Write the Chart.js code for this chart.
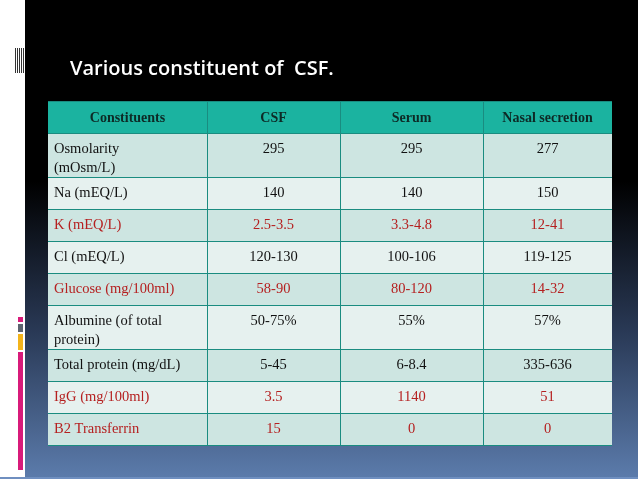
<!DOCTYPE html>
<html><head><meta charset="utf-8">
<script src="https://cdn.jsdelivr.net/npm/chart.js"></script>
<style>
html,body{margin:0;padding:0;width:638px;height:479px;overflow:hidden;background:#fff}
#slide{position:absolute;left:25px;top:0;width:613px;height:477px;background:linear-gradient(to bottom,#000 0%,#000 38%,#2a3a57 70%,#5b7bab 100%)}
#bl{position:absolute;left:0;top:477px;width:638px;height:2px;background:#6f8fc0}
#c{position:absolute;left:0;top:0}
</style></head><body>
<div id="slide"></div><div id="bl"></div>
<canvas id="c" width="638" height="479"></canvas>
<script>
const title = "Various constituent of  CSF.";
const headers = ["Constituents","CSF","Serum","Nasal secretion"];
const constituents = [["Osmolarity","(mOsm/L)"],["Na (mEQ/L)"],["K (mEQ/L)"],["Cl (mEQ/L)"],["Glucose (mg/100ml)"],["Albumine (of total","protein)"],["Total protein (mg/dL)"],["IgG (mg/100ml)"],["B2 Transferrin"]];
const csf = ["295","140","2.5-3.5","120-130","58-90","50-75%","5-45","3.5","15"];
const serum = ["295","140","3.3-4.8","100-106","80-120","55%","6-8.4","1140","0"];
const nasal = ["277","150","12-41","119-125","14-32","57%","335-636","51","0"];
const highlighted = [false,false,true,false,true,false,false,true,true];
const colEdges = [48,207,340,483,612];
const rowEdges = [101,133,177,209,241,273,305,349,381,413,445];

const tablePlugin = {
  id:'table',
  afterDatasetsDraw(chart){
    const ctx = chart.ctx, X = chart.scales.x, Y = chart.scales.y;
    const px = v => X.getPixelForValue(v), py = v => Y.getPixelForValue(v);
    ctx.save();
    // left decorations
    ctx.fillStyle='#fff';
    ctx.fillStyle='#333';
    for(let i=0;i<5;i++){ctx.fillRect(px(15+i*2),py(48),1,py(73)-py(48));}
    const deco=[[317,322,'#d81b7a'],[324,332,'#5d6470'],[334,350,'#f3b41b'],[352,470,'#d81b7a']];
    deco.forEach(d=>{ctx.fillStyle=d[2];ctx.fillRect(px(18),py(d[0]),px(23)-px(18),py(d[1])-py(d[0]));});
    // title
    ctx.fillStyle='#fff';
    ctx.font='600 20px "Open Sans"';
    ctx.textBaseline='alphabetic';ctx.textAlign='left';
    ctx.fillText(title,px(70),py(75));
    // cells
    const rows = [headers].concat(constituents.map((c,i)=>[c,csf[i],serum[i],nasal[i]]));
    rows.forEach((r,ri)=>{
      const y0=py(rowEdges[ri]), y1=py(rowEdges[ri+1]);
      ctx.fillStyle = ri===0?'#1bb3a0':(ri%2===1?'#cde5e1':'#e6f1ef');
      ctx.fillRect(px(colEdges[0]),y0,px(colEdges[4])-px(colEdges[0]),y1-y0);
      r.forEach((t,ci)=>{
        const x0=px(colEdges[ci]), x1=px(colEdges[ci+1]);
        const lines = Array.isArray(t)?t:[t];
        if(ri===0){
          ctx.font='bold 14px "Liberation Serif"';ctx.fillStyle='#0d2a26';ctx.textAlign='center';
          ctx.fillText(t,(x0+x1)/2,y0+21);
        } else {
          ctx.font='14.5px "Liberation Serif"';
          ctx.fillStyle=highlighted[ri-1]?'#b52020':'#111';
          if(ci===0){ctx.textAlign='left';lines.forEach((l,li)=>ctx.fillText(l,x0+6,y0+20+li*19));}
          else {ctx.textAlign='center';ctx.fillText(t,(x0+x1)/2,y0+20);}
        }
      });
    });
    // grid lines
    ctx.strokeStyle='#1a8c80';ctx.lineWidth=1;
    rowEdges.forEach(r=>{ctx.beginPath();ctx.moveTo(px(colEdges[0]),py(r)+0.5);ctx.lineTo(px(colEdges[4]),py(r)+0.5);ctx.stroke();});
    colEdges.slice(1,4).forEach(c=>{ctx.beginPath();ctx.moveTo(px(c)+0.5,py(rowEdges[0]));ctx.lineTo(px(c)+0.5,py(rowEdges[10]));ctx.stroke();});
    ctx.restore();
  }
};
new Chart(document.getElementById('c'),{
  type:'scatter',
  data:{datasets:[{data:[]}]},
  options:{responsive:false,animation:false,events:[],
    layout:{padding:0},
    plugins:{legend:{display:false},tooltip:{enabled:false}},
    scales:{x:{type:'linear',min:0,max:638,display:false},y:{type:'linear',min:0,max:479,reverse:true,display:false}}},
  plugins:[tablePlugin]
});
</script></body></html>
